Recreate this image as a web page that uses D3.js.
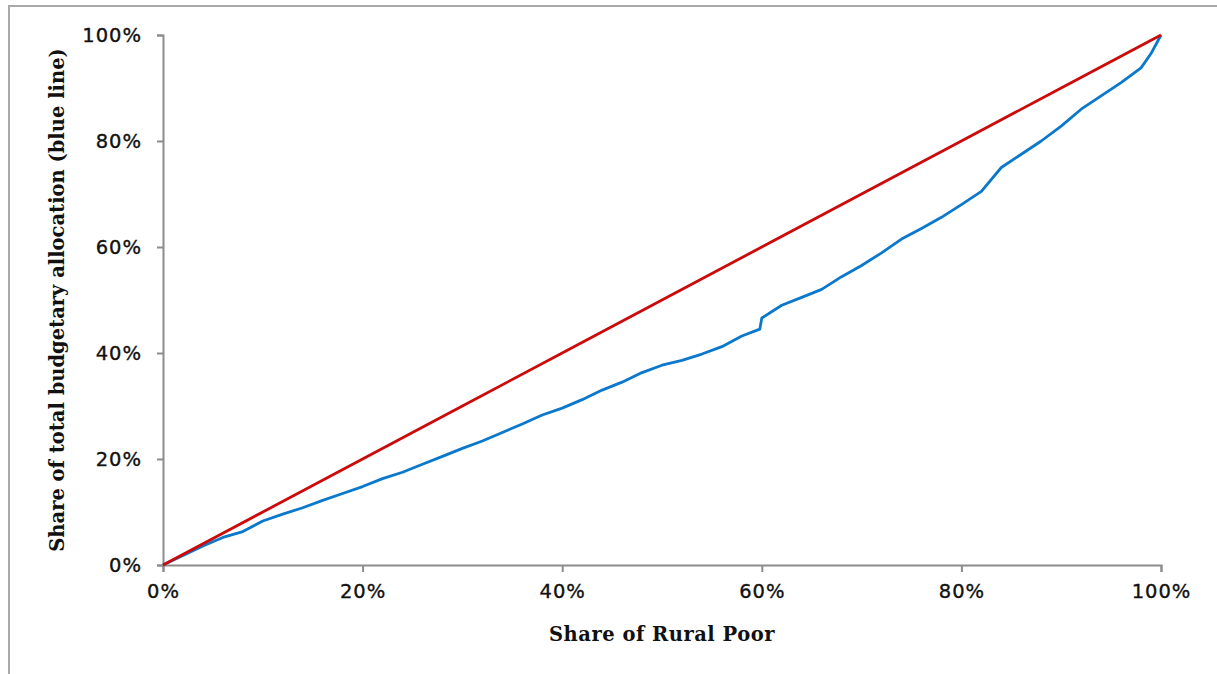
<!DOCTYPE html>
<html><head><meta charset="utf-8">
<script src="https://cdn.jsdelivr.net/npm/d3@7"></script>
<style>
html,body{margin:0;padding:0;background:#fff;}
svg{display:block;}
</style></head>
<body>
<svg id="chart" width="1217" height="674"></svg>
<script>
// Data (percent)
const xTicks = [0, 20, 40, 60, 80, 100];
const yTicks = [0, 20, 40, 60, 80, 100];
const xTitle = "Share of Rural Poor";
const yTitle = "Share of total budgetary allocation (blue line)";
const equalityX = [0, 10, 20, 30, 40, 50, 60, 70, 80, 90, 100];
const equalityY = [0, 10, 20, 30, 40, 50, 60, 70, 80, 90, 100];
const blueX = [0,2,4,6,8,10,12,14,16,18,20,22,24,26,28,30,32,34,36,38,40,42,44,46,48,50,52,54,56,58,59.8,60,62,64,66,68,70,72,74,76,78,80,82,84,86,88,90,92,94,96,98,99,100];
const blueY = [0,1.8,3.6,5.2,6.3,8.3,9.6,10.8,12.2,13.5,14.8,16.3,17.5,19,20.5,22,23.4,25,26.6,28.3,29.6,31.2,33,34.5,36.3,37.7,38.6,39.8,41.2,43.2,44.5,46.6,49,50.5,52,54.4,56.5,58.9,61.5,63.5,65.6,68,70.5,75,77.5,80,82.8,86,88.5,91,93.8,96.5,100];

const svg = d3.select("#chart");
const W = 1217, H = 674;
const m = {left:163, right:W-1161, top:35, bottom:H-565};

// outer frame
svg.append("path")
  .attr("d", `M9,${H} L9,6 L${W},6`)
  .attr("fill","none").attr("stroke","#a9a9a9").attr("stroke-width",2);

const x = d3.scaleLinear().domain([0,100]).range([m.left, W-m.right]);
const y = d3.scaleLinear().domain([0,100]).range([H-m.bottom, m.top]);

const axisColor = "#8c8c8c";
const fmt = d => d + "%";

const gx = svg.append("g").attr("transform", `translate(0,${H-m.bottom})`)
  .call(d3.axisBottom(x).tickValues(xTicks).tickFormat(fmt).tickSize(7).tickPadding(12));
const gy = svg.append("g").attr("transform", `translate(${m.left},0)`)
  .call(d3.axisLeft(y).tickValues(yTicks).tickFormat(fmt).tickSize(6).tickPadding(15));

[gx, gy].forEach(g => {
  g.select(".domain").attr("stroke", axisColor).attr("stroke-width", 2);
  g.selectAll(".tick line").attr("stroke", axisColor).attr("stroke-width", 2);
  g.selectAll(".tick text")
    .attr("fill", "#111").attr("stroke", "#111").attr("stroke-width", 0.35)
    .style("font-family", "'DejaVu Sans', Verdana, sans-serif")
    .style("font-size", "19.5px")
    .style("letter-spacing", "1px");
});
gy.selectAll(".tick text").attr("dy", "0.35em");

// lines
const lineGen = d3.line().x(d => x(d[0])).y(d => y(d[1]));
const eq = equalityX.map((v,i) => [v, equalityY[i]]);
const blue = blueX.map((v,i) => [v, blueY[i]]);

svg.append("path").datum(blue)
  .attr("d", lineGen).attr("fill","none")
  .attr("stroke","#0a78cc").attr("stroke-width",2.8).attr("stroke-linejoin","round");
svg.append("path").datum(eq)
  .attr("d", lineGen).attr("fill","none")
  .attr("stroke","#cc0a0a").attr("stroke-width",2.8).attr("stroke-linejoin","round");

// titles
svg.append("text")
  .attr("x", (x(0)+x(100))/2).attr("y", 641)
  .attr("text-anchor","middle")
  .style("font-family","'DejaVu Serif', 'Liberation Serif', serif")
  .style("font-weight","bold").style("font-size","19.5px")
  .style("letter-spacing","0.5px")
  .attr("fill","#111")
  .text(xTitle);

svg.append("text")
  .attr("transform", `translate(64,${(y(0)+y(100))/2}) rotate(-90)`)
  .attr("text-anchor","middle")
  .style("font-family","'DejaVu Serif', 'Liberation Serif', serif")
  .style("font-weight","bold").style("font-size","19.5px")
  .attr("fill","#111")
  .text(yTitle);
</script>
</body></html>
